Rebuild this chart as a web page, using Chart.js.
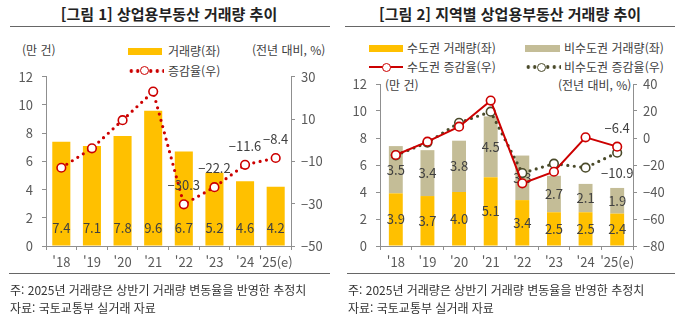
<!DOCTYPE html>
<html lang="ko">
<head>
<meta charset="utf-8">
<script src="https://cdn.jsdelivr.net/npm/chart.js@4.4.1/dist/chart.umd.min.js"></script>
<style>
  body { margin: 0; width: 680px; height: 325px; background: #fff; position: relative; overflow: hidden;
         font-family: "Noto Sans CJK KR", "Noto Sans", sans-serif; color: #333; }
  .abs { position: absolute; white-space: nowrap; }
  .title { font-size: 15px; font-weight: bold; color: #222; top: 4px; line-height: 20px; transform: translateX(-50%); }
  .rule { position: absolute; height: 1px; background: #666; }
  .txt { font-size: 12px; color: #404040; line-height: 14px; transform: translateY(-50%); }
  .note { font-size: 12px; color: #333; line-height: 16px; }
  .swatch { position: absolute; height: 7px; }
  .solid { position: absolute; height: 2px; background: #cc0000; }
  .dots { position: absolute; height: 4px; background-size: 6.5px 4px; background-repeat: repeat-x; }
  .mark { position: absolute; width: 7px; height: 7px; border-radius: 50%; background: #fff; border: 1.5px solid; }
  .wrap { position: absolute; top: 60px; width: 340px; height: 215px; }
</style>
</head>
<body>

<!-- 그림 1 -->
<div class="abs title" style="left:169px">[그림 1] 상업용부동산 거래량 추이</div>
<div class="rule" style="left:10px; width:320px; top:26px"></div>
<div class="abs txt" style="left:22px; top:50px">(만 건)</div>
<div class="abs txt" style="left:252px; top:50px">(전년 대비, %)</div>
<div class="swatch" style="left:128px; top:48px; width:34px; background:#ffc000"></div>
<div class="abs txt" style="left:168px; top:51px">거래량(좌)</div>
<div class="dots" style="left:128px; top:69px; width:36px; background-image:radial-gradient(circle, #cc0000 1.6px, transparent 2px)"></div>
<div class="mark" style="left:140px; top:66px; border-color:#cc0000"></div>
<div class="abs txt" style="left:168px; top:71px">증감율(우)</div>
<div class="wrap" style="left:0"><canvas id="c1" width="340" height="215"></canvas></div>
<div class="rule" style="left:9px; width:321px; top:273px"></div>
<div class="abs note" style="left:10px; top:282px">주: 2025년 거래량은 상반기 거래량 변동율을 반영한 추정치</div>
<div class="abs note" style="left:10px; top:300px">자료: 국토교통부 실거래 자료</div>

<!-- 그림 2 -->
<div class="abs title" style="left:510px">[그림 2] 지역별 상업용부동산 거래량 추이</div>
<div class="rule" style="left:345px; width:330px; top:26px"></div>
<div class="swatch" style="left:369px; top:45px; width:34px; background:#ffc000"></div>
<div class="abs txt" style="left:407px; top:48px">수도권 거래량(좌)</div>
<div class="swatch" style="left:525px; top:45px; width:35px; background:#c4bd97"></div>
<div class="abs txt" style="left:564px; top:48px">비수도권 거래량(좌)</div>
<div class="solid" style="left:369px; top:66px; width:34px"></div>
<div class="mark" style="left:382px; top:62.5px; border-color:#cc0000"></div>
<div class="abs txt" style="left:407px; top:67px">수도권 증감율(우)</div>
<div class="dots" style="left:525px; top:65px; width:36px; background-image:radial-gradient(circle, #4a4a2a 1.6px, transparent 2px)"></div>
<div class="mark" style="left:537px; top:62.5px; border-color:#4a4a2a"></div>
<div class="abs txt" style="left:564px; top:67px">비수도권 증감율(우)</div>
<div class="abs txt" style="left:385px; top:85px">(만 건)</div>
<div class="abs txt" style="left:558px; top:85px">(전년 대비, %)</div>
<div class="wrap" style="left:340px"><canvas id="c2" width="340" height="215"></canvas></div>
<div class="rule" style="left:347px; width:328px; top:273px"></div>
<div class="abs note" style="left:348px; top:282px">주: 2025년 거래량은 상반기 거래량 변동율을 반영한 추정치</div>
<div class="abs note" style="left:348px; top:300px">자료: 국토교통부 실거래 자료</div>

<script>
// ---- data ----
const years = ["'18", "'19", "'20", "'21", "'22", "'23", "'24", "'25(e)"];

// 그림 1: 전국 거래량(만 건), 증감율(%)
const totalVolume = [7.4, 7.1, 7.8, 9.6, 6.7, 5.2, 4.6, 4.2];
const totalRate = [-13.0, -3.8, 9.5, 23.0, -30.3, -22.2, -11.6, -8.4];
const totalRateShown = [null, null, null, null, '-30.3', '-22.2', '-11.6', '-8.4'];

// 그림 2: 지역별 거래량(만 건), 증감율(%)
const capitalVolume = [3.9, 3.7, 4.0, 5.1, 3.4, 2.5, 2.5, 2.4];
const nonCapitalVolume = [3.5, 3.4, 3.8, 4.5, 3.3, 2.7, 2.1, 1.9];
const capitalRate = [-12.6, -2.7, 8.4, 27.7, -33.6, -25.0, 0.5, -6.4];
const nonCapitalRate = [-12.8, -3.4, 11.3, 19.5, -26.0, -19.0, -22.0, -10.9];

const YELLOW = '#ffc000', TAN = '#c4bd97', RED = '#cc0000', OLIVE = '#4a4a2a';
const AXIS = '#8f8f8f', TICK_TEXT = '#595959', LABEL = '#404040';
const FONT = "'Noto Sans CJK KR', 'Noto Sans', sans-serif";

Chart.defaults.font.family = FONT;
Chart.defaults.color = TICK_TEXT;

const minus = s => String(s).replace('-', '\u2212');

// 막대/선 값 표시 (datalabels 대신 직접 그림)
const valueLabels = {
  id: 'valueLabels',
  afterDatasetDraw(chart, args) {
    const ds = chart.data.datasets[args.index];
    if (!ds.labelMode) return;
    const ctx = chart.ctx;
    ctx.save();
    ctx.font = '13px ' + FONT;
    ctx.fillStyle = LABEL;
    ctx.textAlign = 'center';
    ctx.textBaseline = 'middle';
    args.meta.data.forEach((el, i) => {
      let text = ds.labelText ? ds.labelText[i] : ds.data[i].toFixed(1);
      if (text == null) return;
      let y;
      if (ds.labelMode === 'base') y = el.base - 17;
      else if (ds.labelMode === 'center') y = (el.y + el.base) / 2;
      else if (ds.labelMode === 'above') y = el.y - 19;
      else y = el.y + 20;
      ctx.fillText(minus(text), el.x, y);
    });
    ctx.restore();
  }
};

function axes(rightMin, rightMax, leftWidth, rightWidth) {
  const tickFont = { size: 13 };
  return {
    x: {
      stacked: true,
      border: { color: AXIS },
      grid: { drawOnChartArea: false, color: AXIS, tickLength: 4, offset: true },
      ticks: { font: tickFont, padding: 4, color: TICK_TEXT, maxRotation: 0, minRotation: 0, autoSkip: false },
      afterFit: s => { s.height = 29; }
    },
    y: {
      position: 'left', stacked: true, min: 0, max: 12,
      border: { color: AXIS },
      grid: { drawOnChartArea: false, color: AXIS, tickLength: 4 },
      ticks: { stepSize: 2, font: tickFont, padding: 9, color: TICK_TEXT },
      afterFit: s => { s.width = leftWidth; }
    },
    y1: {
      position: 'right', stacked: false, min: rightMin, max: rightMax,
      border: { color: AXIS },
      grid: { drawOnChartArea: false, color: AXIS, tickLength: 4 },
      ticks: { stepSize: 20, font: tickFont, padding: 6, color: TICK_TEXT, callback: v => minus(v) },
      afterFit: s => { s.width = rightWidth; }
    }
  };
}

const common = {
  responsive: false,
  animation: false,
  plugins: { legend: { display: false }, tooltip: { enabled: false } },
};

// ---- 그림 1 ----
new Chart(document.getElementById('c1'), {
  type: 'bar',
  data: {
    labels: years,
    datasets: [
      {
        type: 'line', data: totalRate, yAxisID: 'y1', order: 0,
        borderColor: RED, borderWidth: 3.2, borderDash: [0, 6.5], borderCapStyle: 'round',
        pointRadius: 4.3, pointBorderWidth: 1.6, pointBackgroundColor: '#fff', pointBorderColor: RED,
        labelMode: 'above', labelText: totalRateShown
      },
      {
        data: totalVolume, yAxisID: 'y', order: 1, backgroundColor: YELLOW,
        barPercentage: 0.59, categoryPercentage: 1, labelMode: 'base'
      }
    ]
  },
  options: Object.assign({}, common, {
    layout: { padding: { top: 12, left: 0, right: 0, bottom: 0 } },
    scales: axes(-50, 30, 46, 49)
  }),
  plugins: [valueLabels]
});

// ---- 그림 2 ----
new Chart(document.getElementById('c2'), {
  type: 'bar',
  data: {
    labels: years,
    datasets: [
      {
        type: 'line', data: capitalRate, yAxisID: 'y1', order: 0,
        borderColor: RED, borderWidth: 2,
        pointRadius: 4.3, pointBorderWidth: 1.6, pointBackgroundColor: '#fff', pointBorderColor: RED,
        labelMode: 'above', labelText: [null, null, null, null, null, null, null, '-6.4']
      },
      {
        type: 'line', data: nonCapitalRate, yAxisID: 'y1', order: 1,
        borderColor: OLIVE, borderWidth: 3.2, borderDash: [0, 6.5], borderCapStyle: 'round',
        pointRadius: 4.3, pointBorderWidth: 1.6, pointBackgroundColor: '#fff', pointBorderColor: OLIVE,
        labelMode: 'below', labelText: [null, null, null, null, null, null, null, '-10.9']
      },
      {
        data: capitalVolume, yAxisID: 'y', order: 2, backgroundColor: YELLOW, stack: 'v',
        barPercentage: 0.44, categoryPercentage: 1, labelMode: 'center'
      },
      {
        data: nonCapitalVolume, yAxisID: 'y', order: 3, backgroundColor: TAN, stack: 'v',
        barPercentage: 0.44, categoryPercentage: 1, labelMode: 'center'
      }
    ]
  },
  options: Object.assign({}, common, {
    layout: { padding: { top: 24, left: 0, right: 0, bottom: 0 } },
    scales: axes(-80, 40, 40, 47)
  }),
  plugins: [valueLabels]
});
</script>
</body>
</html>
